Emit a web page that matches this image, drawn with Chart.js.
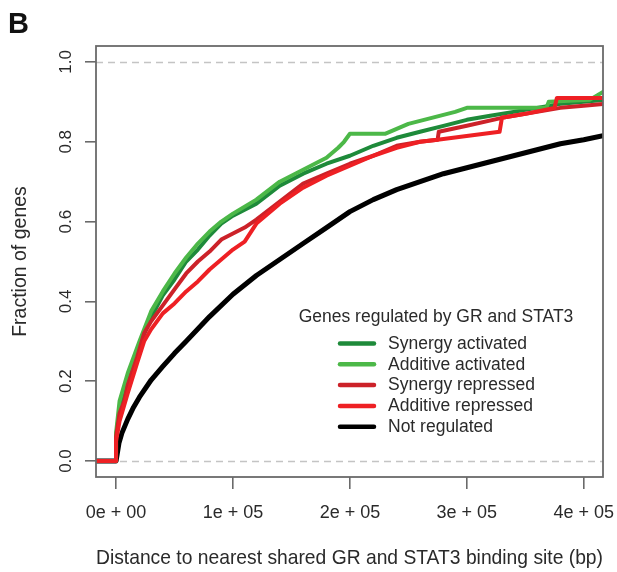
<!DOCTYPE html>
<html><head><meta charset="utf-8">
<script src="https://cdn.jsdelivr.net/npm/chart.js@4.4.0/dist/chart.umd.min.js"></script>
<style>html,body{margin:0;padding:0;background:#fff;}#wrap{width:617px;height:572px;position:relative}</style>
</head><body><div id="wrap"><canvas id="c" width="617" height="572"></canvas></div>
<script>
const panelLabel = 'B';
const xTitle = 'Distance to nearest shared GR and STAT3 binding site (bp)';
const yTitle = 'Fraction of genes';
const legendTitle = 'Genes regulated by GR and STAT3';
const seriesNames = ['Synergy activated', 'Additive activated', 'Synergy repressed', 'Additive repressed', 'Not regulated'];
const xTickValues = [0, 100000, 200000, 300000, 400000];
const xTickLabels = ['0e + 00', '1e + 05', '2e + 05', '3e + 05', '4e + 05'];
const yTickValues = [0, 0.2, 0.4, 0.6, 0.8, 1.0];
const yTickLabels = ['0.0', '0.2', '0.4', '0.6', '0.8', '1.0'];
const refLines = [0, 1];

// distance (bp) / cumulative fraction of genes
const synAct_x = [-17140, 0, 0, 3000, 10000, 20000, 30000, 40000, 50000, 60000, 70000, 80000, 90000, 100000, 120000, 140000, 160000, 180000, 200000, 220000, 240000, 260000, 280000, 300000, 320000, 340000, 360000, 380000, 400000, 416450];
const synAct_y = [0, 0, 0.06, 0.13, 0.21, 0.29, 0.36, 0.415, 0.455, 0.50, 0.53, 0.565, 0.595, 0.615, 0.645, 0.69, 0.72, 0.745, 0.765, 0.79, 0.81, 0.825, 0.84, 0.855, 0.865, 0.875, 0.885, 0.895, 0.90, 0.905];

const addAct_x = [-17140, 0, 0, 3000, 10000, 20000, 30000, 40000, 50000, 60000, 70000, 80000, 90000, 100000, 120000, 140000, 160000, 180000, 190000, 195000, 200000, 230000, 250000, 270000, 290000, 300000, 368000, 370000, 405000, 416450];
const addAct_y = [0, 0, 0.07, 0.15, 0.22, 0.30, 0.375, 0.425, 0.47, 0.51, 0.545, 0.575, 0.60, 0.62, 0.655, 0.70, 0.73, 0.76, 0.785, 0.80, 0.82, 0.82, 0.845, 0.86, 0.875, 0.885, 0.885, 0.90, 0.905, 0.925];

const synRep_x = [-17140, 0, 0, 3000, 7000, 10000, 18000, 24000, 30000, 40000, 50000, 60000, 70000, 80000, 90000, 100000, 110000, 120000, 140000, 160000, 180000, 200000, 220000, 240000, 260000, 275000, 276000, 300000, 330000, 360000, 380000, 400000, 416450];
const synRep_y = [0, 0, 0.06, 0.12, 0.15, 0.19, 0.26, 0.32, 0.35, 0.39, 0.43, 0.47, 0.50, 0.525, 0.555, 0.57, 0.585, 0.605, 0.65, 0.695, 0.72, 0.745, 0.765, 0.79, 0.80, 0.805, 0.825, 0.84, 0.86, 0.875, 0.885, 0.89, 0.895];

const addRep_x = [-17140, 0, 0, 3000, 7000, 10000, 18000, 24000, 30000, 40000, 50000, 60000, 70000, 80000, 90000, 100000, 110000, 120000, 140000, 160000, 180000, 200000, 220000, 240000, 260000, 275000, 328000, 330000, 350000, 375000, 377000, 416450];
const addRep_y = [0, 0, 0.05, 0.10, 0.14, 0.17, 0.245, 0.30, 0.33, 0.37, 0.395, 0.425, 0.45, 0.48, 0.505, 0.53, 0.55, 0.595, 0.645, 0.685, 0.715, 0.74, 0.765, 0.785, 0.80, 0.805, 0.825, 0.86, 0.87, 0.885, 0.91, 0.91];

const notReg_x = [-17140, 0, 2500, 5000, 10000, 15000, 20000, 30000, 40000, 50000, 60000, 80000, 100000, 120000, 140000, 160000, 180000, 200000, 220000, 240000, 260000, 280000, 300000, 320000, 340000, 360000, 380000, 400000, 416450];
const notReg_y = [0, 0, 0.045, 0.07, 0.105, 0.135, 0.16, 0.203, 0.237, 0.27, 0.30, 0.362, 0.418, 0.465, 0.505, 0.545, 0.585, 0.625, 0.655, 0.68, 0.70, 0.72, 0.735, 0.75, 0.765, 0.78, 0.795, 0.805, 0.815];

const FONT = "'Liberation Sans', Arial, Helvetica, sans-serif";
const seriesColors = ['#1e8a3a', '#4cb848', '#cc2229', '#ee2024', '#000000'];
const seriesWidths = [4, 4, 4, 4, 5];
const seriesOrder = [4, 3, 2, 1, 5];

function pts(xs, ys) { return xs.map((x, i) => ({x: x, y: ys[i]})); }
const seriesData = [pts(synAct_x, synAct_y), pts(addAct_x, addAct_y), pts(synRep_x, synRep_y), pts(addRep_x, addRep_y), pts(notReg_x, notReg_y)];

const datasets = seriesNames.map((name, i) => ({
  label: name,
  data: seriesData[i],
  borderColor: seriesColors[i],
  backgroundColor: seriesColors[i],
  borderWidth: seriesWidths[i],
  pointRadius: 0,
  tension: 0,
  fill: false,
  borderJoinStyle: 'round',
  borderCapStyle: 'round',
  order: seriesOrder[i]
}));

const boxPlugin = {
  id: 'rbox',
  beforeDatasetsDraw(chart) {
    const {ctx, chartArea: a, scales} = chart;
    ctx.save();
    ctx.strokeStyle = '#c4c4c4';
    ctx.lineWidth = 1.6;
    ctx.setLineDash([7, 5]);
    refLines.forEach(v => {
      const y = Math.round(scales.y.getPixelForValue(v)) + 0.5;
      ctx.beginPath(); ctx.moveTo(a.left, y); ctx.lineTo(a.right, y); ctx.stroke();
    });
    ctx.restore();
  },
  afterDatasetsDraw(chart) {
    const {ctx, chartArea: a} = chart;
    ctx.save();
    ctx.strokeStyle = '#6a6a6a';
    ctx.lineWidth = 1.8;
    ctx.strokeRect(a.left, a.top, a.right - a.left, a.bottom - a.top);
    // legend
    const cx = 436;
    ctx.fillStyle = '#2a2a2a';
    ctx.font = '17.5px ' + FONT;
    ctx.textAlign = 'center';
    ctx.textBaseline = 'middle';
    ctx.fillText(legendTitle, cx, 317);
    const rowY0 = 343.5, rowDy = 20.8;
    chart.data.datasets.forEach((ds, i) => {
      const y = rowY0 + i * rowDy;
      ctx.strokeStyle = ds.borderColor;
      ctx.lineWidth = 4.5;
      ctx.lineCap = 'round';
      ctx.setLineDash([]);
      ctx.beginPath(); ctx.moveTo(340, y); ctx.lineTo(374, y); ctx.stroke();
      ctx.textAlign = 'left';
      ctx.fillStyle = '#2a2a2a';
      ctx.fillText(ds.label, 388, y + 0.5);
    });
    // panel label
    ctx.fillStyle = '#111';
    ctx.font = 'bold 29px ' + FONT;
    ctx.textAlign = 'left';
    ctx.textBaseline = 'alphabetic';
    ctx.fillText(panelLabel, 8, 33);
    ctx.restore();
  }
};

new Chart(document.getElementById('c'), {
  type: 'line',
  data: {datasets: datasets},
  plugins: [boxPlugin],
  options: {
    responsive: false,
    devicePixelRatio: 1,
    animation: false,
    events: [],
    layout: {padding: {left: 0, right: 14, top: 46, bottom: 0}},
    plugins: {legend: {display: false}, tooltip: {enabled: false}},
    scales: {
      x: {
        type: 'linear',
        min: -17140,
        max: 416450,
        afterBuildTicks: s => { s.ticks = xTickValues.map(v => ({value: v})); },
        afterFit: s => { s.height = 95; s.paddingLeft = 0; s.paddingRight = 0; },
        ticks: {
          autoSkip: false, maxRotation: 0, minRotation: 0,
          callback: (v, i) => xTickLabels[i],
          font: {family: FONT, size: 18}, color: '#2a2a2a', padding: 13
        },
        grid: {drawOnChartArea: false, drawTicks: true, tickLength: 12, color: '#6a6a6a', lineWidth: 1.6},
        border: {display: false},
        title: {display: true, text: xTitle, font: {family: FONT, size: 19.8}, color: '#2a2a2a', padding: {top: 0, bottom: 2}}
      },
      y: {
        type: 'linear',
        min: -0.04,
        max: 1.04,
        afterBuildTicks: s => { s.ticks = yTickValues.map(v => ({value: v})); },
        afterFit: s => { s.width = 96; s.paddingTop = 0; s.paddingBottom = 0; },
        ticks: {
          autoSkip: false, minRotation: 90, maxRotation: 90, crossAlign: 'center',
          callback: (v, i) => yTickLabels[i],
          font: {family: FONT, size: 17}, color: '#2a2a2a', padding: 7
        },
        grid: {drawOnChartArea: false, drawTicks: true, tickLength: 11, color: '#6a6a6a', lineWidth: 1.6},
        border: {display: false},
        title: {display: true, text: yTitle, font: {family: FONT, size: 19.5}, color: '#2a2a2a', padding: {top: 9, bottom: 0}}
      }
    }
  }
});
</script></body></html>
